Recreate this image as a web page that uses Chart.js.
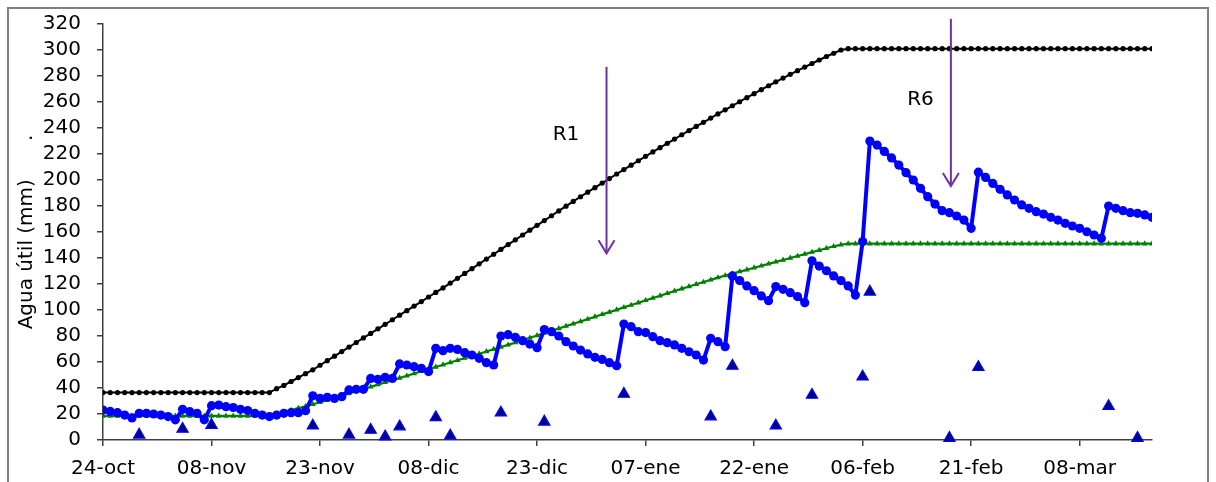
<!DOCTYPE html>
<html>
<head>
<meta charset="utf-8">
<script src="https://cdn.jsdelivr.net/npm/chart.js@4.4.1/dist/chart.umd.min.js"></script>
<style>
html,body{margin:0;padding:0;background:#ffffff;}
#wrap{width:1216px;height:482px;position:relative;}
</style>
</head>
<body>
<div id="wrap"><canvas id="c" width="1216" height="482"></canvas></div>
<script>
// x axis: days since 24-oct
const tickDays = [0, 15, 30, 45, 60, 75, 90, 105, 120, 135];
const tickLabels = ['24-oct', '08-nov', '23-nov', '08-dic', '23-dic', '07-ene', '22-ene', '06-feb', '21-feb', '08-mar'];

// Agua útil diaria (mm), blue line with circles, days 0..145
const aguaUtil = [
  23, 22, 21, 19.2, 17, 20.5, 20.5, 20, 19.2, 18,
  15.5, 23.6, 21.8, 20.5, 15.5, 26.4, 26.9, 25.6, 25, 23.6,
  22.6, 20.5, 19.2, 18, 19.2, 20.5, 21, 21, 22.5, 34,
  32, 32.8, 32, 33.3, 38.5, 39, 39, 47.4, 46.7, 48.2,
  47.4, 58.5, 57.7, 56.4, 55.1, 52.6, 70.5, 68.7, 70.5, 69.7,
  67.2, 65.4, 62.8, 59.5, 57.7, 80, 81, 79, 76.4, 73.8,
  71, 85, 83.3, 80, 75.6, 72.3, 69.2, 66.2, 63.6, 62,
  59.5, 57.2, 89.2, 87.2, 83.3, 82.6, 79.5, 76.4, 74.9, 73.1,
  70.5, 67.9, 65.4, 61.5, 78.2, 75.6, 71.8, 126.2, 122.6, 118.5,
  114.9, 110.8, 107.2, 118, 115.9, 113.3, 110.3, 105.6, 137.9, 133.8,
  130.2, 126.2, 122.6, 118.5, 111.5, 152.6, 230, 226.9, 222, 217,
  211.5, 205.6, 200, 193.6, 187.2, 181.5, 176.4, 174.9, 172.3, 169.2,
  162.8, 206, 202, 197.4, 192.8, 188.5, 184.6, 180.8, 178.2, 175.6,
  173.8, 171.3, 169.2, 166.7, 164.6, 162.8, 160.2, 157.7, 155.1, 180,
  178.2, 176.4, 174.9, 174.4, 173.1, 171.3
];

// Umbral (green line with small triangles), days 0..145
const umbral = [
  18.5, 18.5, 18.5, 18.5, 18.5, 18.5, 18.5, 18.5, 18.5, 18.5,
  18.5, 18.5, 18.5, 18.5, 18.5, 18.5, 18.5, 18.5, 18.5, 18.5,
  18.5, 18.5, 18.5, 19, 20, 21.5, 23, 24.5, 26, 27.5,
  29, 30.7, 32.4, 34.1, 35.8, 37.5, 39.2, 40.9, 42.6, 44.3,
  46, 47.7, 49.4, 51.1, 52.8, 54.5, 56.2, 57.9, 59.6, 61.3,
  63, 64.7, 66.4, 68.1, 69.8, 71.5, 73.2, 75, 76.8, 78.6,
  80.4, 82.2, 84, 85.8, 87.6, 89.4, 91.2, 93, 94.8, 96.6,
  98.4, 100.2, 102, 103.8, 105.6, 107.4, 109.2, 111, 112.8, 114.6,
  116.4, 118.1, 119.8, 121.5, 123.2, 124.9, 126.5, 128, 129.5, 131,
  132.5, 134, 135.5, 137, 138.5, 140, 141.5, 143, 144.5, 146,
  147.5, 149, 150.2, 151, 151, 151, 151, 151, 151, 151,
  151, 151, 151, 151, 151, 151, 151, 151, 151, 151,
  151, 151, 151, 151, 151, 151, 151, 151, 151, 151,
  151, 151, 151, 151, 151, 151, 151, 151, 151, 151,
  151, 151, 151, 151, 151, 151
];

// Agua útil máxima (black line with small markers), days 0..145
const maxima = [
  36.5, 36.5, 36.5, 36.5, 36.5, 36.5, 36.5, 36.5, 36.5, 36.5,
  36.5, 36.5, 36.5, 36.5, 36.5, 36.5, 36.5, 36.5, 36.5, 36.5,
  36.5, 36.5, 36.5, 36.5, 39.5, 42, 45, 48, 51, 54,
  57.5, 61, 64.5, 68, 71.5, 75, 78.5, 82, 85.5, 89,
  92.5, 96, 99.5, 103, 106.5, 110, 113.5, 117, 120.7, 124.4,
  128.1, 131.8, 135.5, 139.2, 142.9, 146.6, 150.3, 154, 157.7, 161.4,
  165.1, 168.8, 172.5, 176.2, 179.9, 183.5, 187.1, 190.6, 194.1, 197.6,
  201.1, 204.6, 208, 211.4, 214.8, 218.2, 221.6, 224.9, 228.2, 231.5,
  234.8, 238, 241.2, 244.4, 247.6, 250.8, 254, 257.1, 260.2, 263.3,
  266.4, 269.5, 272.5, 275.5, 278.4, 281.3, 284.1, 286.9, 289.6, 292.3,
  295, 297.5, 300, 301, 301, 301, 301, 301, 301, 301,
  301, 301, 301, 301, 301, 301, 301, 301, 301, 301,
  301, 301, 301, 301, 301, 301, 301, 301, 301, 301,
  301, 301, 301, 301, 301, 301, 301, 301, 301, 301,
  301, 301, 301, 301, 301, 301
];

// Aportes (blue triangles): day index and mm
const aporteDias = [5, 11, 15, 29, 34, 37, 39, 41, 46, 48, 55, 61, 72, 84, 87, 93, 98, 105, 106, 117, 121, 139, 143];
const aporteMm = [4, 8.5, 11.5, 11, 4, 7.7, 2.6, 10.3, 17.4, 3.3, 21, 14, 35.4, 18, 57, 11, 34.6, 48.7, 114, 1.5, 56, 26, 1.5];

// Annotations (arrows R1, R6) in data units
const arrowLabels = ['R1', 'R6'];
const arrowDays = [69.6, 117.2];
const arrowTopMm = [287, 324];
const arrowBottomMm = [143.6, 195.4];
const arrowLabelDays = [64, 113];
const arrowLabelMm = [235, 261.5];

const FONT = 'DejaVu Sans';
Chart.defaults.font.family = FONT;
Chart.defaults.font.size = 20;
Chart.defaults.color = '#000000';

const toXY = (arr) => arr.map((v, i) => ({ x: i, y: v }));

const framePlugin = {
  id: 'frame',
  beforeDraw(chart) {
    const ctx = chart.ctx;
    ctx.save();
    ctx.fillStyle = '#ffffff';
    ctx.fillRect(0, 0, chart.width, chart.height);
    ctx.strokeStyle = '#808080';
    ctx.lineWidth = 2;
    ctx.strokeRect(8, 8, 1200, 500);
    ctx.restore();
  }
};

const arrowPlugin = {
  id: 'arrows',
  afterDatasetsDraw(chart) {
    const ctx = chart.ctx;
    const xs = chart.scales.x, ys = chart.scales.y;
    ctx.save();
    ctx.strokeStyle = '#7030A0';
    ctx.lineWidth = 2;
    for (let i = 0; i < arrowLabels.length; i++) {
      const x = xs.getPixelForValue(arrowDays[i]);
      const yt = ys.getPixelForValue(arrowTopMm[i]);
      const yb = ys.getPixelForValue(arrowBottomMm[i]);
      ctx.beginPath();
      ctx.moveTo(x, yt);
      ctx.lineTo(x, yb);
      ctx.stroke();
      ctx.beginPath();
      ctx.moveTo(x - 8, yb - 13);
      ctx.lineTo(x, yb);
      ctx.lineTo(x + 8, yb - 13);
      ctx.stroke();
      ctx.fillStyle = '#000000';
      ctx.font = '20px "' + FONT + '"';
      ctx.textAlign = 'center';
      ctx.textBaseline = 'middle';
      ctx.fillText(arrowLabels[i], xs.getPixelForValue(arrowLabelDays[i]), ys.getPixelForValue(arrowLabelMm[i]));
    }
    ctx.restore();
  }
};

new Chart(document.getElementById('c'), {
  type: 'line',
  data: {
    datasets: [
      {
        label: 'Agua útil',
        data: toXY(aguaUtil),
        borderColor: '#0000FF',
        backgroundColor: '#0000FF',
        borderWidth: 4,
        pointRadius: 4.6,
        pointStyle: 'circle',
        pointBorderWidth: 0,
        tension: 0
      },
      {
        label: 'Aportes',
        data: aporteDias.map((d, i) => ({ x: d, y: aporteMm[i] })),
        showLine: false,
        pointStyle: 'triangle',
        pointRadius: 6.5,
        backgroundColor: '#00008B',
        borderColor: '#0000FF',
        pointBorderWidth: 1.2,
        clip: false
      },
      {
        label: 'Umbral',
        data: toXY(umbral),
        borderColor: '#008000',
        backgroundColor: '#008000',
        borderWidth: 2.2,
        pointStyle: 'triangle',
        pointRadius: 3.4,
        pointBorderWidth: 0,
        tension: 0
      },
      {
        label: 'Máxima',
        data: toXY(maxima),
        borderColor: '#000000',
        backgroundColor: '#000000',
        borderWidth: 2,
        pointStyle: 'circle',
        pointRadius: 2.6,
        pointBorderWidth: 0,
        tension: 0
      }
    ]
  },
  options: {
    responsive: false,
    animation: false,
    events: [],
    layout: { padding: { left: 0, right: 64, top: 24, bottom: 0 } },
    plugins: { legend: { display: false }, tooltip: { enabled: false } },
    scales: {
      x: {
        type: 'linear',
        min: 0,
        max: 145,
        afterBuildTicks: (s) => { s.ticks = tickDays.map(v => ({ value: v })); },
        afterFit: (s) => { s.height = 42; s.paddingLeft = 0; s.paddingRight = 0; },
        ticks: {
          autoSkip: false,
          maxRotation: 0,
          padding: 11,
          color: '#000000',
          font: { family: FONT, size: 20 },
          callback: (v, i) => tickLabels[i]
        },
        grid: { drawOnChartArea: false, drawTicks: true, tickLength: 6, color: '#404040', lineWidth: 1.5 },
        border: { display: true, color: '#404040', width: 1.5 }
      },
      y: {
        min: 0,
        max: 320,
        afterFit: (s) => { s.width = 103; s.paddingTop = 0; s.paddingBottom = 0; },
        ticks: {
          stepSize: 20,
          autoSkip: false,
          padding: 16,
          color: '#000000',
          font: { family: FONT, size: 20 }
        },
        grid: { drawOnChartArea: false, drawTicks: true, tickLength: 6, color: '#404040', lineWidth: 1.5 },
        border: { display: true, color: '#404040', width: 1.5 },
        title: {
          display: true,
          text: 'Agua útil (mm)' + '\u00A0\u00A0\u00A0\u00A0\u00A0\u00A0' + '.',
          color: '#000000',
          font: { family: FONT, size: 20 },
          padding: { top: 15, bottom: 0 }
        }
      }
    }
  },
  plugins: [framePlugin, arrowPlugin]
});
</script>
</body>
</html>
